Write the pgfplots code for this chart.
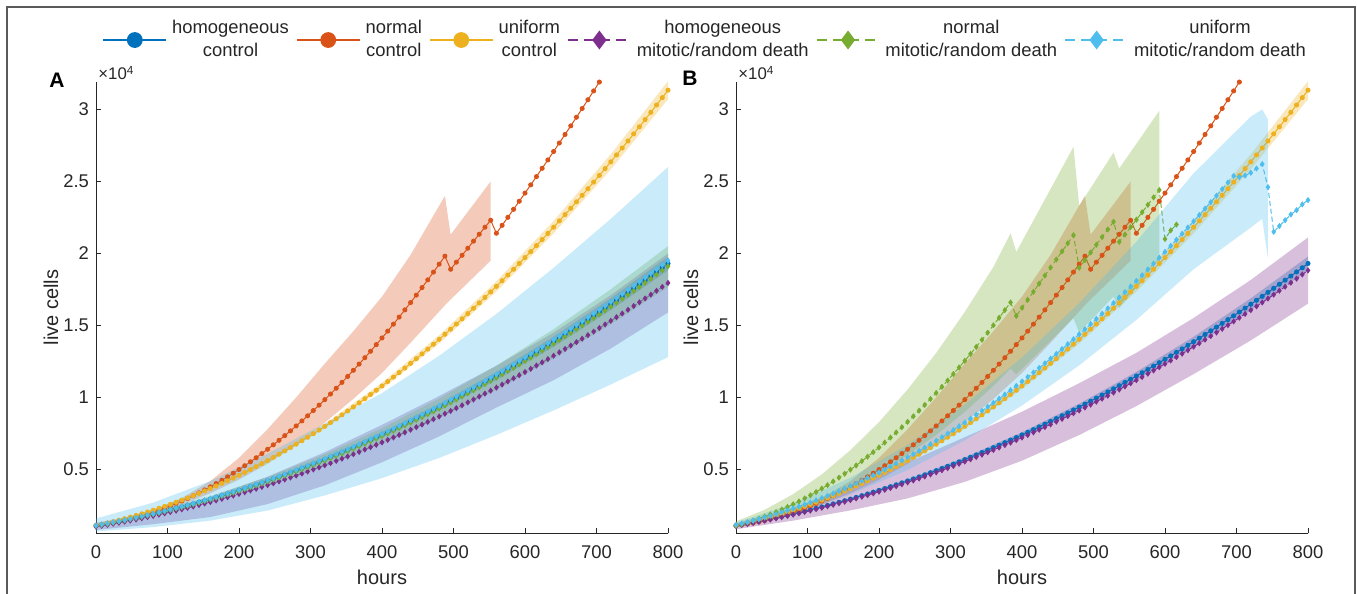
\documentclass[border=0pt]{standalone}
\usepackage{fontspec}
\setmainfont{Liberation Sans}
\usepackage{pgfplots}
\usepackage{pgfplotstable}
\pgfplotsset{compat=1.18}
\definecolor{cblue}{HTML}{0072BD}
\definecolor{cred}{HTML}{D95319}
\definecolor{cyel}{HTML}{EDB120}
\definecolor{cpur}{HTML}{7E2F8E}
\definecolor{cgre}{HTML}{77AC30}
\definecolor{ccya}{HTML}{4DBEEE}
\definecolor{axc}{HTML}{262626}
\definecolor{framec}{HTML}{5A5A5A}

\pgfplotstableread[row sep=\\]{
t blue red yellow purpA greenA cyanA purpB greenB cyanB\\
0 1100 1100 1100 1023 1089 1111 1073 1100 1150\\
8 1171 1155 1188 1089 1159 1183 1142 1207 1244\\
16 1244 1219 1280 1157 1232 1256 1213 1324 1343\\
24 1320 1291 1377 1228 1307 1333 1287 1449 1446\\
32 1398 1371 1477 1300 1384 1412 1363 1584 1552\\
40 1478 1460 1583 1375 1463 1493 1441 1728 1664\\
48 1560 1557 1692 1451 1544 1576 1521 1881 1779\\
56 1645 1663 1806 1530 1629 1661 1604 2043 1899\\
64 1732 1777 1924 1611 1715 1749 1689 2215 2023\\
72 1821 1899 2047 1694 1803 1839 1775 2395 2152\\
80 1912 2030 2173 1778 1893 1931 1864 2585 2284\\
88 2006 2169 2305 1866 1986 2026 1956 2784 2422\\
96 2101 2316 2440 1954 2080 2122 2048 2992 2563\\
104 2199 2472 2580 2045 2177 2221 2144 3210 2708\\
112 2300 2636 2724 2139 2277 2323 2243 3436 2858\\
120 2402 2809 2873 2234 2378 2426 2342 3672 3013\\
128 2507 2990 3025 2332 2482 2532 2444 3917 3170\\
136 2614 3179 3183 2431 2588 2640 2549 4171 3334\\
144 2723 3377 3344 2532 2696 2750 2655 4434 3500\\
152 2834 3583 3510 2636 2806 2862 2763 4707 3672\\
160 2948 3798 3680 2742 2919 2977 2874 4988 3847\\
168 3064 4021 3855 2850 3033 3095 2987 5279 4028\\
176 3182 4252 4034 2959 3150 3214 3102 5579 4212\\
184 3302 4491 4217 3071 3269 3335 3219 5888 4401\\
192 3425 4740 4404 3185 3391 3459 3339 6207 4593\\
200 3550 4996 4596 3302 3515 3586 3461 6534 4790\\
208 3677 5261 4792 3420 3640 3714 3585 6871 4991\\
216 3806 5534 4993 3540 3768 3844 3711 7217 5197\\
224 3938 5816 5198 3662 3899 3977 3840 7572 5407\\
232 4072 6106 5407 3787 4031 4113 3970 7936 5621\\
240 4208 6404 5620 3913 4166 4250 4103 8309 5839\\
248 4346 6711 5838 4042 4303 4389 4237 8692 6062\\
256 4487 7026 6060 4173 4442 4532 4375 9083 6289\\
264 4630 7349 6287 4306 4584 4676 4514 9484 6521\\
272 4775 7681 6517 4441 4727 4823 4656 9894 6756\\
280 4922 8022 6753 4577 4873 4971 4799 10314 6997\\
288 5072 8370 6992 4717 5021 5123 4945 10742 7240\\
296 5223 8727 7236 4857 5171 5275 5092 11180 7489\\
304 5377 9093 7484 5001 5323 5431 5243 11627 7742\\
312 5534 9467 7737 5147 5479 5589 5396 12083 7999\\
320 5692 9849 7993 5294 5635 5749 5550 12548 8260\\
328 5853 10239 8255 5443 5794 5912 5707 13022 8526\\
336 6016 10638 8520 5595 5956 6076 5866 13506 8796\\
344 6181 11046 8790 5748 6119 6243 6026 13998 9070\\
352 6348 11461 9064 5904 6285 6411 6189 14500 9349\\
360 6518 11886 9343 6062 6453 6583 6355 15011 9632\\
368 6690 12318 9625 6222 6623 6757 6523 15531 9918\\
376 6864 12759 9913 6384 6795 6933 6692 16061 10210\\
384 7040 13208 10204 6547 6970 7110 6864 16599 10506\\
392 7219 13666 10500 6714 7147 7291 7039 15660 10806\\
400 7400 14132 10800 6882 7326 7474 7215 16220 11110\\
408 7583 14606 11104 7052 7507 7659 7393 16780 11418\\
416 7768 15089 11413 7224 7690 7846 7574 17340 11731\\
424 7956 15580 11726 7399 7876 8036 7757 17900 12048\\
432 8146 16080 12044 7576 8065 8227 7942 18460 12370\\
440 8338 16588 12366 7754 8255 8421 8130 19020 12696\\
448 8532 17104 12692 7935 8447 8617 8319 19580 13026\\
456 8729 17629 13022 8118 8642 8816 8511 20140 13360\\
464 8928 18162 13357 8303 8839 9017 8705 20700 13698\\
472 9129 18704 13696 8490 9038 9220 8901 21260 14041\\
480 9332 19254 14040 8679 9239 9425 9099 19000 14389\\
488 9538 19812 14388 8870 9443 9633 9300 19533 14740\\
496 9745 18900 14740 9063 9648 9842 9501 20067 15096\\
504 9955 19390 15096 9258 9855 10055 9706 20600 15455\\
512 10168 19870 15457 9456 10066 10270 9914 21133 15820\\
520 10382 20360 15822 9655 10278 10486 10122 21667 16188\\
528 10599 20850 16192 9857 10493 10705 10334 22200 16562\\
536 10818 21330 16566 10061 10710 10926 10548 20800 16939\\
544 11039 21820 16944 10266 10929 11149 10763 21314 17320\\
552 11262 22300 17326 10474 11149 11375 10980 21829 17705\\
560 11488 21400 17713 10684 11373 11603 11201 22343 18096\\
568 11716 21950 18104 10896 11599 11833 11423 22857 18490\\
576 11946 22504 18500 11110 11827 12065 11647 23371 18889\\
584 12178 23062 18899 11326 12056 12300 11874 23886 19291\\
592 12413 23623 19304 11544 12289 12537 12103 24400 19699\\
600 12650 24189 19712 11765 12524 12777 12334 21000 20110\\
608 12889 24758 20125 11987 12760 13018 12567 21600 20526\\
616 13130 25332 20542 12211 12999 13261 12802 22000 20946\\
624 13374 25909 20963 12438 13240 13508 13040 nan 21370\\
632 13620 26490 21389 12667 13484 13756 13280 nan 21798\\
640 13868 27075 21819 12897 13729 14007 13521 nan 22231\\
648 14118 27664 22254 13130 13977 14259 13765 nan 22669\\
656 14371 28257 22693 13365 14227 14515 14012 nan 23110\\
664 14626 28854 23136 13602 14480 14772 14260 nan 23556\\
672 14883 29455 23583 13841 14734 15032 14511 nan 24006\\
680 15142 30059 24035 14082 14991 15293 14763 nan 24460\\
688 15404 30668 24491 14326 15250 15558 15019 nan 24918\\
696 15667 31280 24952 14570 15510 15824 15275 nan 25382\\
704 15933 31897 25416 14818 15774 16092 15535 nan 25300\\
712 16202 nan 25886 15068 16040 16364 15797 nan 25400\\
720 16472 nan 26359 15319 16307 16637 16060 nan 25600\\
728 16745 nan 26837 15573 16578 16912 16326 nan 25900\\
736 17020 nan 27319 15829 16850 17190 16595 nan 26200\\
744 17297 nan 27805 16086 17124 17470 16865 nan 24600\\
752 17576 nan 28296 16346 17400 17752 17137 nan 21500\\
760 17858 nan 28791 16608 17679 18037 17412 nan 21900\\
768 18142 nan 29291 16872 17961 18323 17688 nan 22300\\
776 18428 nan 29795 17138 18244 18612 17967 nan 22700\\
784 18716 nan 30303 17406 18529 18903 18248 nan 23000\\
792 19007 nan 30815 17677 18817 19197 18532 nan 23400\\
800 19300 nan 31332 17949 19107 19493 18818 nan 23700\\
}\data

% bands: upper edge forward, lower edge backward
\pgfplotstableread[row sep=\\]{
x y\\ 0 1128\\ 80 1960\\ 160 3022\\ 240 4313\\ 320 5834\\ 400 7585\\ 480 9565\\ 560 11775\\ 640 14215\\ 720 16884\\ 800 19783\\
800 18818\\ 720 16060\\ 640 13521\\ 560 11201\\ 480 9099\\ 400 7215\\ 320 5550\\ 240 4103\\ 160 2874\\ 80 1864\\ 0 1073\\
}\bandblue
\pgfplotstableread[row sep=\\]{
x y\\ 0 1200\\ 40 1560\\ 80 2180\\ 120 3010\\ 160 4200\\ 200 5800\\ 240 7800\\ 280 10000\\ 320 12350\\ 360 14600\\ 400 17000\\ 440 19900\\ 488 24000\\ 496 21300\\ 552 25000\\
552 19500\\ 496 16800\\ 488 16400\\ 440 13800\\ 400 11700\\ 360 9900\\ 320 8250\\ 280 6700\\ 240 5400\\ 200 4300\\ 160 3350\\ 120 2560\\ 80 1880\\ 40 1360\\ 0 1000\\
}\bandred
\pgfplotstableread[row sep=\\]{
x y\\ 0 1122\\ 80 2216\\ 160 3754\\ 240 5732\\ 320 8153\\ 400 11016\\ 480 14321\\ 560 18067\\ 640 22255\\ 720 26886\\ 800 31959\\
800 30705\\ 720 25832\\ 640 21383\\ 560 17359\\ 480 13759\\ 400 10584\\ 320 7833\\ 240 5508\\ 160 3606\\ 80 2130\\ 0 1078\\
}\bandyel

\pgfplotsset{
  panel/.style={
    scale only axis, width=286pt, height=225.65pt,
    xmin=0, xmax=800, ymin=570, ymax=31900,
    axis x line*=bottom, axis y line*=left,
    axis line style={axc, line width=0.45pt},
    tick style={axc, line width=0.45pt},
    major tick length=2.5pt, tick align=inside,
    xtick={0,100,...,800},
    ytick={5000,10000,15000,20000,25000,30000},
    yticklabels={0.5,1,1.5,2,2.5,3},
    scaled y ticks=false,
    /pgf/number format/assume math mode=true,
    ticklabel style={font=\fontsize{9.2}{10}\selectfont, text=axc},
    xticklabel style={yshift=-2.5pt},
    xlabel={hours}, ylabel={live cells},
    label style={font=\fontsize{10}{12}\selectfont, text=axc},
    xlabel style={at={([yshift=-21.8pt]axis description cs:0.5,0)}, anchor=center},
    ylabel style={at={([xshift=-22.5pt]axis description cs:0,0.5)}, anchor=center},
  },
  band/.style={draw=none, fill=#1, fill opacity=0.3, forget plot},
  ctrl/.style={color=#1, line width=0.5pt, mark=*, mark size=1pt, forget plot},
  mito/.style={color=#1, line width=0.5pt, dash pattern=on 2.5pt off 1.5pt, mark=diamond*, mark size=1.15pt, mark options={solid}, forget plot},
}

\begin{document}
\begin{tikzpicture}
\useasboundingbox (0,0) rectangle (678.5pt,297pt);
\draw[framec, line width=1pt] (3.5pt,-2pt) -- (3.5pt,293.5pt) -- (677.5pt,293.5pt) -- (677.5pt,-2pt);

% ---------------- Panel A ----------------
\begin{axis}[panel, at={(48pt,30.35pt)}, anchor=south west,
  legend columns=6, legend cell align=center,
  legend style={at={(0,1.0930)}, anchor=west, draw=none, fill=none,
    font=\fontsize{9.2}{11.5}\selectfont, text=axc,
    nodes={inner sep=0pt, align=center},
    /tikz/every odd column/.append style={column sep=2.5pt},
    /tikz/every even column/.append style={column sep=3.5pt}},
  legend image code/.code={\draw[mark repeat=2, mark phase=2, #1] plot coordinates {(0pt,0pt) (15.75pt,0pt) (31.5pt,0pt)};},
]
\addlegendimage{color=cblue, line width=0.9pt, mark=*, mark size=3.5pt}
\addlegendentry{homogeneous\\control}
\addlegendimage{color=cred, line width=0.9pt, mark=*, mark size=3.5pt}
\addlegendentry{normal\\control}
\addlegendimage{color=cyel, line width=0.9pt, mark=*, mark size=3.5pt}
\addlegendentry{uniform\\control}
\addlegendimage{color=cpur, line width=0.9pt, dash pattern=on 5pt off 3pt, mark=diamond*, mark size=4pt, mark options={solid}}
\addlegendentry{homogeneous\\mitotic/random death}
\addlegendimage{color=cgre, line width=0.9pt, dash pattern=on 5pt off 3pt, mark=diamond*, mark size=4pt, mark options={solid}}
\addlegendentry{normal\\mitotic/random death}
\addlegendimage{color=ccya, line width=0.9pt, dash pattern=on 5pt off 3pt, mark=diamond*, mark size=4pt, mark options={solid}}
\addlegendentry{uniform\\mitotic/random death}

\addplot[band=cblue] table {\bandblue};
\addplot[ctrl=cblue] table[x=t,y=blue] {\data};
\addplot[band=cred] table {\bandred};
\addplot[ctrl=cred] table[x=t,y=red] {\data};
\addplot[band=cyel] table {\bandyel};
\addplot[ctrl=cyel] table[x=t,y=yellow] {\data};
\addplot[band=cpur] table[row sep=\\] {x y\\ 0 1300\\ 80 2000\\ 160 3100\\ 240 4500\\ 320 6200\\ 400 8100\\ 480 10100\\ 560 12200\\ 640 14500\\ 720 17100\\ 800 20000\\ 800 15900\\ 720 13400\\ 640 11200\\ 560 9300\\ 480 7300\\ 400 5500\\ 320 3900\\ 240 2600\\ 160 1700\\ 80 1200\\ 0 800\\};
\addplot[mito=cpur] table[x=t,y=purpA] {\data};
\addplot[band=cgre] table[row sep=\\] {x y\\ 0 1190\\ 80 2050\\ 160 3150\\ 240 4480\\ 320 6060\\ 400 7870\\ 480 9930\\ 560 12210\\ 640 14740\\ 720 17510\\ 800 20500\\ 800 17660\\ 720 15080\\ 640 12690\\ 560 10520\\ 480 8550\\ 400 6780\\ 320 5220\\ 240 3860\\ 160 2720\\ 80 1770\\ 0 1020\\};
\addplot[mito=cgre] table[x=t,y=greenA] {\data};
\addplot[band=ccya] table[row sep=\\] {x y\\ 0 1600\\ 80 2700\\ 160 4200\\ 240 6100\\ 320 8200\\ 400 10300\\ 480 12900\\ 560 15800\\ 640 19000\\ 720 22400\\ 800 26000\\ 800 12800\\ 720 10900\\ 640 9100\\ 560 7400\\ 480 5800\\ 400 4400\\ 320 3200\\ 240 2150\\ 160 1450\\ 80 1000\\ 0 700\\};
\addplot[mito=ccya] table[x=t,y=cyanA] {\data};
\end{axis}

% ---------------- Panel B ----------------
\begin{axis}[panel, at={(368pt,30.35pt)}, anchor=south west]
\addplot[band=cblue] table {\bandblue};
\addplot[ctrl=cblue] table[x=t,y=blue] {\data};
\addplot[band=cred] table {\bandred};
\addplot[ctrl=cred] table[x=t,y=red] {\data};
\addplot[band=cyel] table {\bandyel};
\addplot[ctrl=cyel] table[x=t,y=yellow] {\data};
\addplot[band=cpur] table[row sep=\\] {x y\\ 0 1250\\ 80 2350\\ 160 3760\\ 240 5490\\ 320 7240\\ 400 9010\\ 480 10990\\ 560 13100\\ 640 15520\\ 720 18160\\ 800 21110\\ 800 16510\\ 720 13960\\ 640 11620\\ 560 9400\\ 480 7390\\ 400 5610\\ 320 4140\\ 240 2990\\ 160 2160\\ 80 1450\\ 0 850\\};
\addplot[mito=cpur] table[x=t,y=purpB] {\data};
\addplot[band=cgre] table[row sep=\\] {x y\\ 0 1400\\ 40 2200\\ 80 3290\\ 120 4660\\ 160 6340\\ 200 8290\\ 240 10550\\ 280 13090\\ 320 15940\\ 360 19060\\ 384 21400\\ 392 20100\\ 472 27400\\ 480 23300\\ 528 27000\\ 536 25900\\ 592 29900\\ 592 19600\\ 536 16200\\ 528 17000\\ 480 14500\\ 472 15500\\ 392 11600\\ 384 12000\\ 360 10800\\ 320 9000\\ 280 7400\\ 240 6000\\ 200 4700\\ 160 3600\\ 120 2650\\ 80 1900\\ 40 1350\\ 0 950\\};
\addplot[mito=cgre] table[x=t,y=greenB] {\data};
\addplot[band=ccya] table[row sep=\\] {x y\\ 0 1320\\ 80 2620\\ 160 4430\\ 240 6720\\ 320 9500\\ 400 12780\\ 480 16550\\ 560 20820\\ 640 25560\\ 720 29500\\ 736 30000\\ 744 29300\\ 744 19600\\ 736 22400\\ 720 21800\\ 640 18900\\ 560 15390\\ 480 12230\\ 400 9440\\ 320 7020\\ 240 4960\\ 160 3270\\ 80 1940\\ 0 980\\};
\addplot[mito=ccya] table[x=t,y=cyanB] {\data};
\end{axis}

% panel letters and exponent labels
\node[font=\bfseries\fontsize{10.5}{12}\selectfont, text=black] at (28.5pt,257pt) {A};
\node[font=\bfseries\fontsize{10.5}{12}\selectfont, text=black] at (345pt,258pt) {B};
\node[anchor=base west, font=\fontsize{8.4}{10}\selectfont, text=axc, inner sep=0pt] at (49pt,257pt) {×10\textsuperscript{4}};
\node[anchor=base west, font=\fontsize{8.4}{10}\selectfont, text=axc, inner sep=0pt] at (369pt,257pt) {×10\textsuperscript{4}};
\end{tikzpicture}
\end{document}
